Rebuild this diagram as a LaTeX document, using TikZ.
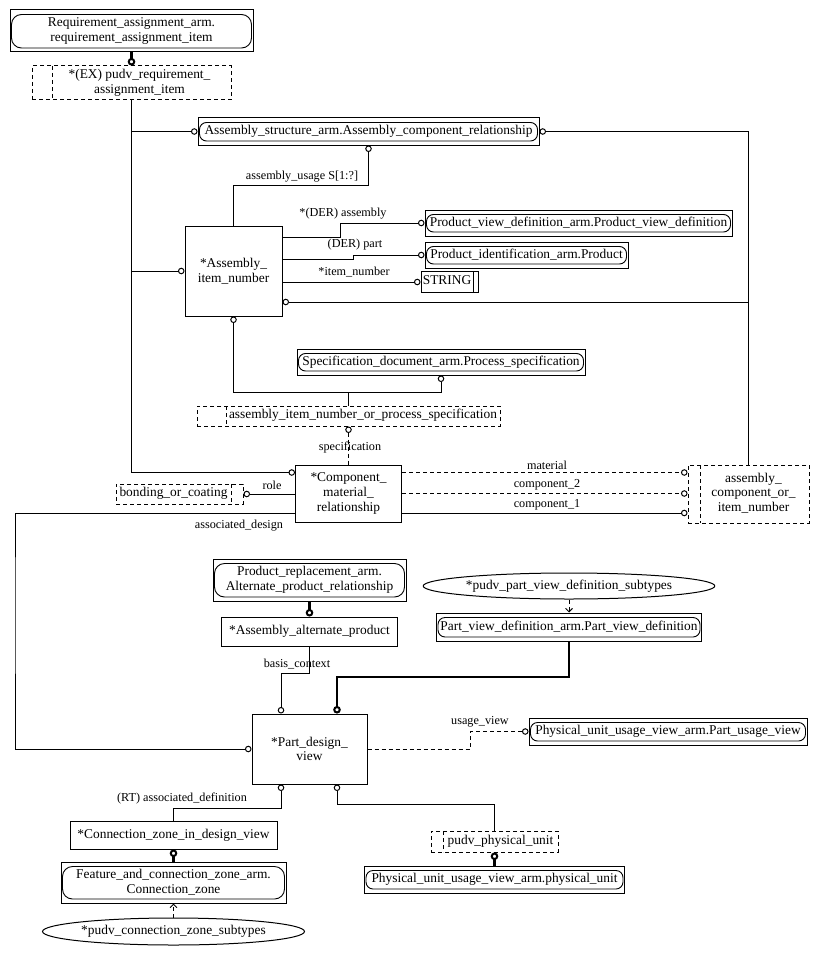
\documentclass[tikz,border=0pt]{standalone}
\usepackage{fontspec}
\setmainfont{Liberation Serif}
\usetikzlibrary{arrows.meta,shapes.geometric,calc}
\newcommand\shtxt[2]{\hspace*{#1}\begin{tabular}{@{}c@{}}#2\end{tabular}}
\tikzset{
  oc/.tip={Circle[open,length=6.5pt,width=6.5pt,line width=1pt]},
  tc/.tip={Circle[open,length=7.5pt,width=7.5pt,line width=2pt]},
  bar/.tip={Straight Barb[length=3.5pt,width=7pt,line width=0.9pt]},
}
\begin{document}
\begin{tikzpicture}[x=1pt,y=-1pt,
  every node/.style={inner sep=0pt, align=center, font=\fontsize{13.4}{14.6}\selectfont},
  lbl/.style={font=\fontsize{12.2}{14}\selectfont},
  ln/.style={line width=1pt},
  thk/.style={line width=2.6pt},
  wh/.style 2 args={minimum width=#1, minimum height=#2},
  ent/.style={draw, line width=1pt, rectangle},
  ext/.style={draw, line width=1pt, rectangle,
    path picture={\draw[line width=0.9pt, rounded corners=#1]
      ([shift={(1.5pt,-4.5pt)}]path picture bounding box.north west) rectangle
      ([shift={(-1.5pt,4pt)}]path picture bounding box.south east);}},
  ext/.default=7pt,
  sel/.style={draw, line width=1pt, dash pattern=on 4pt off 3pt},
  selL/.style={path picture={\draw[line width=1pt, dash pattern=on 4pt off 3pt]
      ([xshift=#1]path picture bounding box.north west) -- ([xshift=#1]path picture bounding box.south west);}},
  selR/.style={path picture={\draw[line width=1pt, dash pattern=on 4pt off 3pt]
      ([xshift=-#1]path picture bounding box.north east) -- ([xshift=-#1]path picture bounding box.south east);}},
  inR/.style={path picture={\draw[line width=1pt]
      ([xshift=-#1]path picture bounding box.north east) -- ([xshift=-#1]path picture bounding box.south east);}},
  ell/.style={draw, line width=1pt, ellipse},
  dsh/.style={dash pattern=on 4pt off 3pt},
]
\useasboundingbox (0,0) rectangle (819,955);

% ---------- nodes ----------
\node[ext=10pt, wh={243}{42}] (rai) at (131.5,31) {Requirement\_assignment\_arm.\\requirement\_assignment\_item};
\node[sel, selL=20pt, wh={199}{34}] (prai) at (131.5,83) {\shtxt{16pt}{*(EX) pudv\_requirement\_\\assignment\_item}};
\node[ext, wh={341}{27}] (aicr) at (368.5,131.5) {Assembly\_structure\_arm.Assembly\_component\_relationship};
\node[ent, wh={97}{90}] (ain) at (233.5,271) {*Assembly\_\\item\_number};
\node[ext, wh={307}{26}] (pvd) at (578.5,223) {Product\_view\_definition\_arm.Product\_view\_definition};
\node[ext, wh={203}{26}] (pid) at (526.5,255) {Product\_identification\_arm.Product};
\node[ent, inR=5pt, wh={57}{21}] (str) at (449.5,282) {\shtxt{-5pt}{STRING}};
\node[ext, wh={288}{26}] (psp) at (441,362) {Specification\_document\_arm.Process\_specification};
\node[sel, selL=29pt, wh={303}{20}] (ainps) at (348.5,416) {\shtxt{29pt}{assembly\_item\_number\_or\_process\_specification}};
\node[ent, wh={106}{57}] (cmr) at (348.5,493.5) {*Component\_\\material\_\\relationship};
\node[sel, selR=12pt, wh={127}{20}] (boc) at (179.5,494) {\shtxt{-12pt}{bonding\_or\_coating}};
\node[sel, selL=12pt, wh={121}{58}] (acin) at (748.5,494) {\shtxt{10pt}{assembly\_\\component\_or\_\\item\_number}};
\node[ext=10pt, wh={193}{42}] (apr) at (309.5,580) {Product\_replacement\_arm.\\Alternate\_product\_relationship};
\node[ent, wh={176}{29}] (aap) at (309.5,631.5) {*Assembly\_alternate\_product};
\node[ell, wh={288}{26}] (ppvds) at (569,586) {*pudv\_part\_view\_definition\_subtypes};
\node[ext, wh={265}{28}] (pvdef) at (569,627) {Part\_view\_definition\_arm.Part\_view\_definition};
\node[ent, wh={115}{70}] (pdv) at (309.5,749) {*Part\_design\_\\view};
\node[ext, wh={278}{27}] (puv) at (668,731.5) {Physical\_unit\_usage\_view\_arm.Part\_usage\_view};
\node[ent, wh={207}{28}] (czdv) at (173.5,835) {*Connection\_zone\_in\_design\_view};
\node[ext=10pt, wh={225}{41}] (fcz) at (173.5,882.5) {Feature\_and\_connection\_zone\_arm.\\Connection\_zone};
\node[ell, wh={262}{27}] (pczs) at (173.5,931.5) {*pudv\_connection\_zone\_subtypes};
\node[sel, selL=12pt, wh={127}{21}] (ppu) at (494.5,841.5) {\shtxt{12pt}{pudv\_physical\_unit}};
\node[ext, wh={260}{27}] (pu) at (494.5,879.5) {Physical\_unit\_usage\_view\_arm.physical\_unit};

% ---------- helper coordinates ----------
\coordinate (au) at (368.5,185);
\coordinate (j1) at (340,237);
\coordinate (j2) at (353,259);
\coordinate (b1) at (300,302);
\coordinate (jp) at (441,392);
\coordinate (ad) at (15,600);
\coordinate (bc) at (281,673);
\coordinate (tk) at (337,677);
\coordinate (uv) at (470,749);
\coordinate (rt) at (281,808);
\coordinate (pp) at (337,804);
\coordinate (cm1) at ([yshift=-8pt]cmr.north west);
\coordinate (m1) at ([yshift=-8pt]cmr.north east);
\coordinate (c1) at ([yshift=9.5pt]cmr.south east);
\coordinate (c0) at ([yshift=9.5pt]cmr.south west);

% ---------- connectors ----------
\draw[thk,-tc] (rai.south) -- (prai.north);
\draw[ln,-oc] (prai.south) |- (cm1);
\draw[ln,-oc] (prai.south |- aicr.west) -- (aicr.west);
\draw[ln,-oc] (prai.south |- ain.west) -- (ain.west);
\draw[ln,oc-] (aicr.east) -| (acin.north);
\draw[ln,oc-] (ain.east |- b1) -- (b1 -| acin.north);
\draw[ln,oc-] (aicr.south) -- (au) -| (ain.north);
\draw[ln,-oc] (ain.east |- j1) -- (j1) |- (pvd.west);
\draw[ln,-oc] (ain.east |- j2) -- (j2) |- (pid.west);
\draw[ln,-oc] (ain.east |- str.west) -- (str.west);
\draw[ln,oc-oc] (ain.south) |- (jp) -- (psp.south);
\draw[ln] (ainps.north |- jp) -- (ainps.north);
\draw[ln,dsh,oc-] (ainps.south) -- (cmr.north);
\draw[ln,-oc] (cmr.west |- boc.east) -- (boc.east);
\draw[ln,-oc] (c0) -| (ad) |- (pdv.west);
\draw[ln,dsh,-oc] (m1) -- (m1 -| acin.west);
\draw[ln,dsh,-oc] (cmr.east) -- (cmr.east -| acin.west);
\draw[ln,-oc] (c1) -- (c1 -| acin.west);
\draw[thk,-tc] (apr.south) -- (aap.north);
\draw[ln,-oc] (aap.south) |- (bc) -- (bc |- pdv.north);
\draw[ln,dsh,-bar] (ppvds.south) -- (pvdef.north);
\draw[thk,-tc] (pvdef.south) |- (tk) -- (tk |- pdv.north);
\draw[ln,dsh,-oc] (pdv.east) -- (uv) |- (puv.west);
\draw[ln,oc-] (rt |- pdv.south) -- (rt) -| (czdv.north);
\draw[ln,oc-] (pp |- pdv.south) -- (pp) -| (ppu.north);
\draw[thk,tc-] (czdv.south) -- (fcz.north);
\draw[ln,dsh,-bar] (pczs.north) -- (fcz.south);
\draw[thk,tc-] (ppu.south) -- (pu.north);

% ---------- labels ----------
\node[lbl] (lau) at (302,177) {assembly\_usage S[1:?]};
\node[lbl] (lda) at (343,214) {*(DER) assembly};
\node[lbl] (ldp) at (355,245) {(DER) part};
\node[lbl] (lin) at (354,272) {*item\_number};
\node[lbl] (lsp) at (350,447) {specification};
\node[lbl] (lro) at (272,485) {role};
\node[lbl] (lad) at (239,526) {associated\_design};
\node[lbl] (lma) at (547,465) {material};
\node[lbl] (lc2) at (547,485) {component\_2};
\node[lbl] (lc1) at (547,505) {component\_1};
\node[lbl] (lbc) at (297,664) {basis\_context};
\node[lbl] (luv) at (480,722) {usage\_view};
\node[lbl] (lrt) at (182,798) {(RT) associated\_definition};
\end{tikzpicture}
\end{document}
